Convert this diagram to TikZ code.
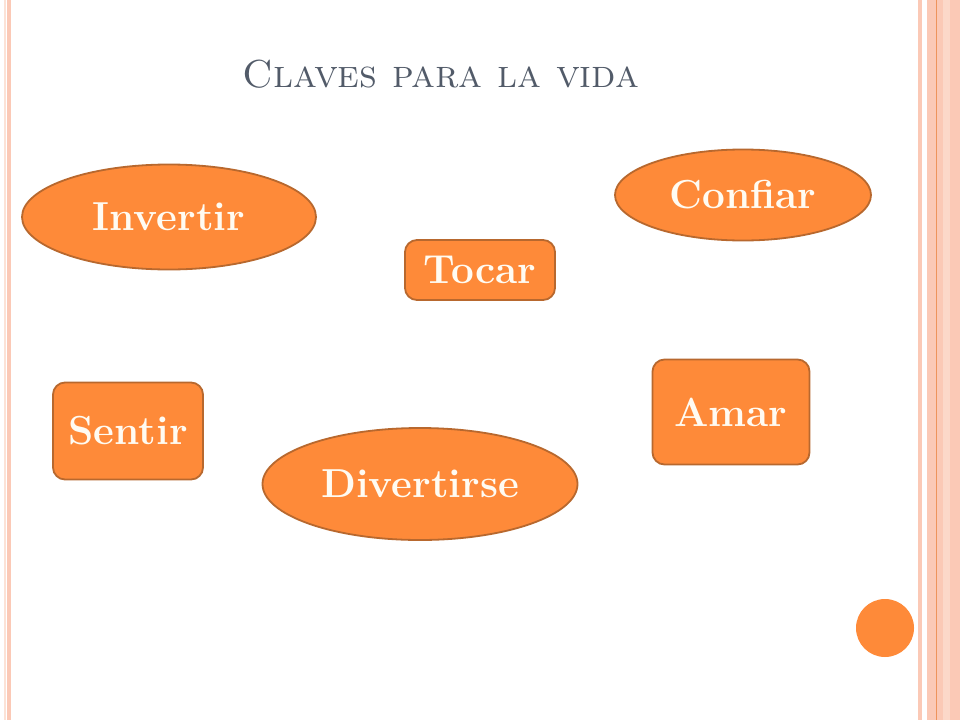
\documentclass[tikz,border=0pt]{standalone}
\usepackage{tikz}
\usetikzlibrary{shapes.geometric}
\definecolor{ocol}{RGB}{254,138,57}
\definecolor{bcol}{RGB}{184,104,46}
\definecolor{scol}{RGB}{251,201,182}
\definecolor{pcol}{RGB}{252,226,214}
\definecolor{lcol}{RGB}{238,148,92}
\definecolor{tcol}{RGB}{82,91,105}
\definecolor{kcol}{RGB}{255,251,242}
\tikzset{every picture/.style={x=1pt,y=-1pt}}
\tikzset{key/.style={fill=ocol,draw=bcol,line width=1.8pt,inner sep=0pt,text=kcol,font=\fontsize{40.5}{44}\selectfont\bfseries}}
\tikzset{ovalbox/.style={key,ellipse}}
\tikzset{roundbox/.style={key,rectangle,rounded corners=12pt}}
\tikzset{stripe/.style={fill=scol,draw=none}}

\begin{document}
\begin{tikzpicture}
\useasboundingbox [fill=white] (0,0) rectangle (960,720);
% side stripes
\fill [pcol] (4,0) rectangle (5.5,720);
\fill [stripe] (7,0) rectangle (11,720);
\fill [stripe] (917.5,0) rectangle (921.7,720);
\fill [stripe] (927.3,0) rectangle (960,720);
\fill [lcol] (935.7,0) rectangle (936.8,720);
\fill [pcol!60!scol] (943,0) rectangle (950,720);
% title
\node [text=tcol,font=\fontsize{39}{44}\selectfont] (title) at (441,74) {\textsc{Claves para la vida}};
% keys
\node [ovalbox,minimum width=294,minimum height=105] (invertir) at (169,217) {Invertir};
\node [ovalbox,minimum width=256,minimum height=91] (confiar) at (743,195) {Confiar};
\node [roundbox,minimum width=150,minimum height=60] (tocar) at (480,270) {Tocar};
\node [roundbox,minimum width=150,minimum height=97] (sentir) at (128,431) {Sentir};
\node [roundbox,minimum width=157,minimum height=105] (amar) at (731,412) {Amar};
\node [ovalbox,minimum width=315,minimum height=112] (divertirse) at (420,484) {Divertirse};
\node [circle,fill=ocol,minimum size=58,inner sep=0pt] (dot) at (885,628) {};
\end{tikzpicture}
\end{document}
